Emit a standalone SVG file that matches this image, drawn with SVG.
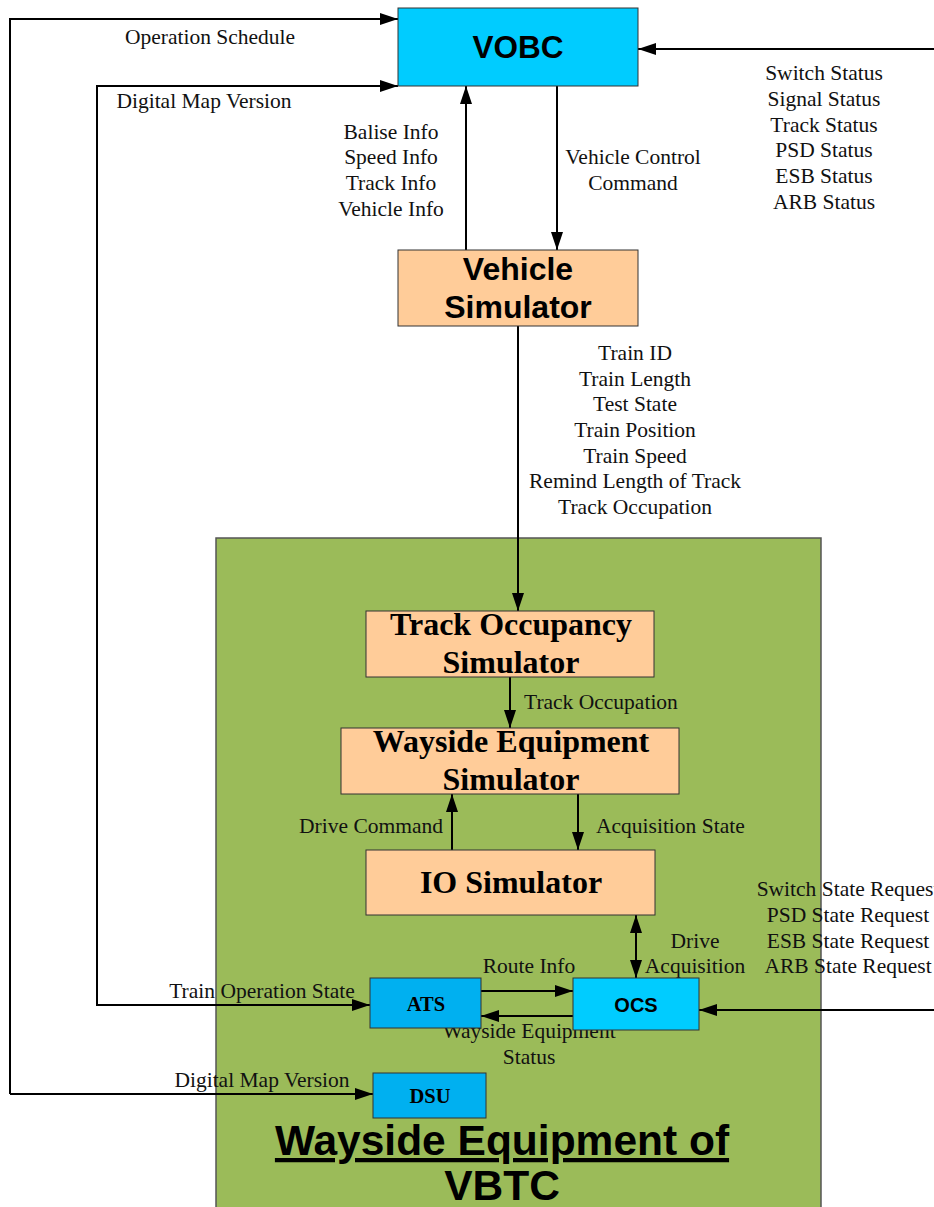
<svg xmlns="http://www.w3.org/2000/svg" width="934" height="1207" viewBox="0 0 934 1207">
  <style>
    .lbl { font-family: "Liberation Serif", "Times New Roman", serif; font-size: 21.5px; fill: #111; text-anchor: middle; }
    .lbl-l { font-family: "Liberation Serif", "Times New Roman", serif; font-size: 21.5px; fill: #111; text-anchor: start; }
    .lbl-r { font-family: "Liberation Serif", "Times New Roman", serif; font-size: 21.5px; fill: #111; text-anchor: end; }
    .sans-b { font-family: "Liberation Sans", Arial, sans-serif; font-weight: bold; fill: #000; text-anchor: middle; }
    .serif-b { font-family: "Liberation Serif", "Times New Roman", serif; font-weight: bold; fill: #000; text-anchor: middle; }
    .blue { fill: #00CCFF; stroke: #333; stroke-width: 1; }
    .blue2 { fill: #00B0F0; stroke: #333; stroke-width: 1; }
    .peach { fill: #FFCC99; stroke: #333; stroke-width: 1; }
    .wire { fill: none; stroke: #000; stroke-width: 2; }
  </style>
  <defs>
    <marker id="arr" markerUnits="userSpaceOnUse" markerWidth="18" markerHeight="12" refX="18" refY="6" orient="auto-start-reverse">
      <path d="M0,0 L18,6 L0,12 Z" fill="#000"/>
    </marker>
  </defs>

  <rect width="934" height="1207" fill="#fff"/>

  <!-- wayside container -->
  <g id="wayside-vbtc">
    <rect x="216" y="538" width="605" height="680" fill="#9BBB59" stroke="#555" stroke-width="1.5"/>
    <text class="sans-b" x="502" y="1155" font-size="42.5" text-decoration="underline">Wayside Equipment of</text>
    <text class="sans-b" x="502" y="1200" font-size="42.5">VBTC</text>
  </g>

  <!-- connectors -->
  <g id="connectors">
    <polyline class="wire" points="10,1094 10,19 398,19" marker-end="url(#arr)"/>
    <line class="wire" x1="10" y1="1094" x2="373" y2="1094" marker-end="url(#arr)"/>
    <polyline class="wire" points="370,1005 97,1005 97,86 398,86" marker-end="url(#arr)" marker-start="url(#arr)"/>
    <line class="wire" x1="934" y1="49" x2="638" y2="49" marker-end="url(#arr)"/>
    <line class="wire" x1="466" y1="250" x2="466" y2="86" marker-end="url(#arr)"/>
    <line class="wire" x1="557" y1="86" x2="557" y2="250" marker-end="url(#arr)"/>
    <line class="wire" x1="518" y1="326" x2="518" y2="611" marker-end="url(#arr)"/>
    <line class="wire" x1="510" y1="677" x2="510" y2="728" marker-end="url(#arr)"/>
    <line class="wire" x1="452" y1="850" x2="452" y2="794" marker-end="url(#arr)"/>
    <line class="wire" x1="578" y1="794" x2="578" y2="850" marker-end="url(#arr)"/>
    <line class="wire" x1="636" y1="915" x2="636" y2="978" marker-end="url(#arr)" marker-start="url(#arr)"/>
    <line class="wire" x1="481" y1="991" x2="573" y2="991" marker-end="url(#arr)"/>
    <line class="wire" x1="573" y1="1016" x2="481" y2="1016" marker-end="url(#arr)"/>
    <line class="wire" x1="934" y1="1010" x2="699" y2="1010" marker-end="url(#arr)"/>
  </g>

  <!-- connector labels -->
  <g id="labels">
    <text class="lbl" x="210" y="44">Operation Schedule</text>
    <text class="lbl" x="204" y="108">Digital Map Version</text>
    <text class="lbl" x="824" y="80">Switch Status</text>
    <text class="lbl" x="824" y="106">Signal Status</text>
    <text class="lbl" x="824" y="132">Track Status</text>
    <text class="lbl" x="824" y="157">PSD Status</text>
    <text class="lbl" x="824" y="183">ESB Status</text>
    <text class="lbl" x="824" y="209">ARB Status</text>
    <text class="lbl" x="391" y="139">Balise Info</text>
    <text class="lbl" x="391" y="164">Speed Info</text>
    <text class="lbl" x="391" y="190">Track Info</text>
    <text class="lbl" x="391" y="216">Vehicle Info</text>
    <text class="lbl" x="633" y="164">Vehicle Control</text>
    <text class="lbl" x="633" y="190">Command</text>
    <text class="lbl" x="635" y="360">Train ID</text>
    <text class="lbl" x="635" y="386">Train Length</text>
    <text class="lbl" x="635" y="411">Test State</text>
    <text class="lbl" x="635" y="437">Train Position</text>
    <text class="lbl" x="635" y="463">Train Speed</text>
    <text class="lbl" x="635" y="488">Remind Length of Track</text>
    <text class="lbl" x="635" y="514">Track Occupation</text>
    <text class="lbl-l" x="524" y="709">Track Occupation</text>
    <text class="lbl-r" x="443" y="833">Drive Command</text>
    <text class="lbl-l" x="596" y="833">Acquisition State</text>
    <text class="lbl" x="695" y="948">Drive</text>
    <text class="lbl" x="695" y="973">Acquisition</text>
    <text class="lbl" x="848" y="896">Switch State Request</text>
    <text class="lbl" x="848" y="922">PSD State Request</text>
    <text class="lbl" x="848" y="948">ESB State Request</text>
    <text class="lbl" x="848" y="973">ARB State Request</text>
    <text class="lbl" x="529" y="973">Route Info</text>
    <text class="lbl" x="529" y="1038">Wayside Equipment</text>
    <text class="lbl" x="529" y="1064">Status</text>
    <text class="lbl" x="262" y="998">Train Operation State</text>
    <text class="lbl" x="262" y="1087">Digital Map Version</text>
  </g>

  <g id="vobc">
    <rect class="blue" x="398" y="8" width="240" height="78"/>
    <text class="sans-b" x="518" y="58" font-size="31.5">VOBC</text>
  </g>

  <g id="vehicle-simulator">
    <rect class="peach" x="398" y="250" width="240" height="76"/>
    <text class="sans-b" x="518" y="280" font-size="32">Vehicle</text>
    <text class="sans-b" x="518" y="318" font-size="32">Simulator</text>
  </g>

  <g id="track-occupancy-simulator">
    <rect class="peach" x="366" y="611" width="288" height="66"/>
    <text class="serif-b" x="511" y="635" font-size="32">Track Occupancy</text>
    <text class="serif-b" x="511" y="673" font-size="32">Simulator</text>
  </g>

  <g id="wayside-equipment-simulator">
    <rect class="peach" x="341" y="728" width="338" height="66"/>
    <text class="serif-b" x="511" y="752" font-size="32">Wayside Equipment</text>
    <text class="serif-b" x="511" y="790" font-size="32">Simulator</text>
  </g>

  <g id="io-simulator">
    <rect class="peach" x="366" y="850" width="289" height="65"/>
    <text class="serif-b" x="511" y="893" font-size="32">IO Simulator</text>
  </g>

  <g id="ats">
    <rect class="blue2" x="370" y="978" width="111" height="50"/>
    <text class="serif-b" x="426" y="1011" font-size="20.5">ATS</text>
  </g>

  <g id="ocs">
    <rect class="blue" x="573" y="978" width="126" height="52"/>
    <text class="sans-b" x="636" y="1012" font-size="20">OCS</text>
  </g>

  <g id="dsu">
    <rect class="blue2" x="373" y="1073" width="113" height="45"/>
    <text class="serif-b" x="430" y="1103" font-size="20.5">DSU</text>
  </g>
</svg>
